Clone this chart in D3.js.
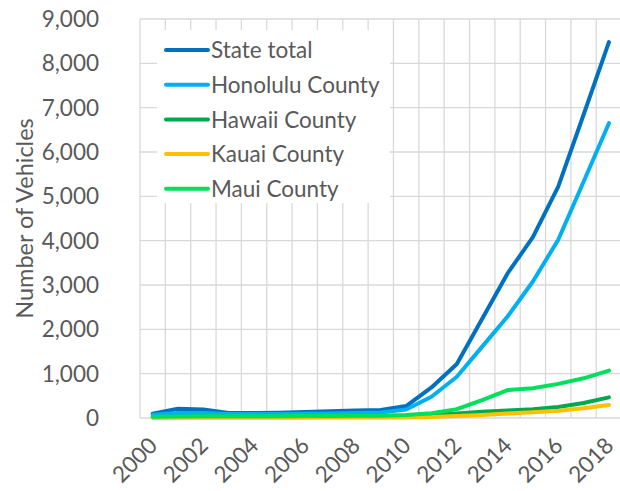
<!DOCTYPE html>
<html>
<head>
<meta charset="utf-8">
<script src="https://cdn.jsdelivr.net/npm/d3@7"></script>
<style>
  html, body { margin: 0; padding: 0; background: #fff; }
  svg { display: block; }
  text { font-family: Lato, "Liberation Sans", Arial, sans-serif; fill: #595959; }
</style>
</head>
<body>
<svg id="chart" width="620" height="491"></svg>
<script>
const years = [2000, 2001, 2002, 2003, 2004, 2005, 2006, 2007, 2008, 2009, 2010, 2011, 2012, 2013, 2014, 2015, 2016, 2017, 2018];
const stateTotal = [97, 210, 190, 115, 115, 120, 135, 150, 170, 180, 270, 690, 1220, 2240, 3260, 4080, 5220, 6840, 8480];
const honoluluCounty = [75, 115, 115, 90, 90, 92, 95, 100, 110, 125, 190, 480, 930, 1610, 2290, 3080, 4020, 5330, 6650];
const hawaiiCounty = [15, 20, 20, 20, 22, 25, 25, 28, 30, 32, 40, 70, 100, 140, 170, 200, 250, 340, 465];
const kauaiCounty = [5, 5, 6, 6, 7, 8, 8, 9, 10, 10, 12, 22, 45, 68, 100, 128, 166, 218, 293];
const mauiCounty = [30, 35, 38, 38, 40, 42, 44, 46, 48, 50, 65, 105, 200, 405, 630, 670, 770, 895, 1068];
const seriesNames = ["State total", "Honolulu County", "Hawaii County", "Kauai County", "Maui County"];
const seriesColors = ["#0070C0", "#00B0F0", "#00A84F", "#FFC000", "#00E05C"];
const yTicks = [0, 1000, 2000, 3000, 4000, 5000, 6000, 7000, 8000, 9000];
const xLabelYears = [2000, 2002, 2004, 2006, 2008, 2010, 2012, 2014, 2016, 2018];
const yTitle = "Number of Vehicles";

const seriesValues = [stateTotal, honoluluCounty, hawaiiCounty, kauaiCounty, mauiCounty];

const svg = d3.select("#chart");
const pLeft = 140, pRight = 621.6, pTop = 19, pBottom = 418;

const x = d3.scaleBand().domain(years).range([pLeft, pRight]).padding(0);
const y = d3.scaleLinear().domain([0, 9000]).range([pBottom, pTop]);
const cx = d => x(d) + x.bandwidth() / 2;

// gridlines
const grid = svg.append("g");
grid.selectAll("line.h").data(yTicks).join("line")
  .attr("x1", pLeft).attr("x2", pRight)
  .attr("y1", d => y(d)).attr("y2", d => y(d))
  .attr("stroke", "#D9D9D9").attr("stroke-width", 1.3);
const vLines = years.map(d => x(d)).concat([pRight]);
grid.selectAll("line.v").data(vLines).join("line")
  .attr("x1", d => d).attr("x2", d => d)
  .attr("y1", pTop).attr("y2", pBottom)
  .attr("stroke", "#D9D9D9").attr("stroke-width", 1.3);

// y axis labels
svg.append("g").selectAll("text").data(yTicks).join("text")
  .attr("x", 99).attr("y", d => y(d)).attr("dy", "0.36em")
  .attr("text-anchor", "end").attr("font-size", 22.5)
  .text(d => d3.format(",")(d));

// x axis labels
svg.append("g").selectAll("text").data(xLabelYears).join("text")
  .attr("transform", d => `translate(${cx(d) + 6},${447}) rotate(-45)`)
  .attr("text-anchor", "end").attr("font-size", 22.5)
  .text(d => d);

// y title
svg.append("text")
  .attr("transform", `translate(33,${(pTop + pBottom) / 2}) rotate(-90)`)
  .attr("text-anchor", "middle").attr("font-size", 23.5)
  .text(yTitle);

// lines
const line = d3.line().x((d, i) => cx(years[i])).y(d => y(d));
svg.append("g").selectAll("path").data(seriesValues).join("path")
  .attr("d", d => line(d))
  .attr("fill", "none")
  .attr("stroke", (d, i) => seriesColors[i])
  .attr("stroke-width", 4)
  .attr("stroke-linejoin", "round")
  .attr("stroke-linecap", "round");

// legend
const lg = svg.append("g");
lg.append("rect").attr("x", 157).attr("y", 30).attr("width", 233).attr("height", 173).attr("fill", "#fff");
const rowY = i => 50 + i * 34.7;
lg.selectAll("line").data(seriesNames).join("line")
  .attr("x1", 166).attr("x2", 208)
  .attr("y1", (d, i) => rowY(i)).attr("y2", (d, i) => rowY(i))
  .attr("stroke", (d, i) => seriesColors[i]).attr("stroke-width", 4)
  .attr("stroke-linecap", "round");
lg.selectAll("text").data(seriesNames).join("text")
  .attr("x", 211).attr("y", (d, i) => rowY(i)).attr("dy", "0.36em")
  .attr("font-size", 22.5)
  .text(d => d);
</script>
</body>
</html>
